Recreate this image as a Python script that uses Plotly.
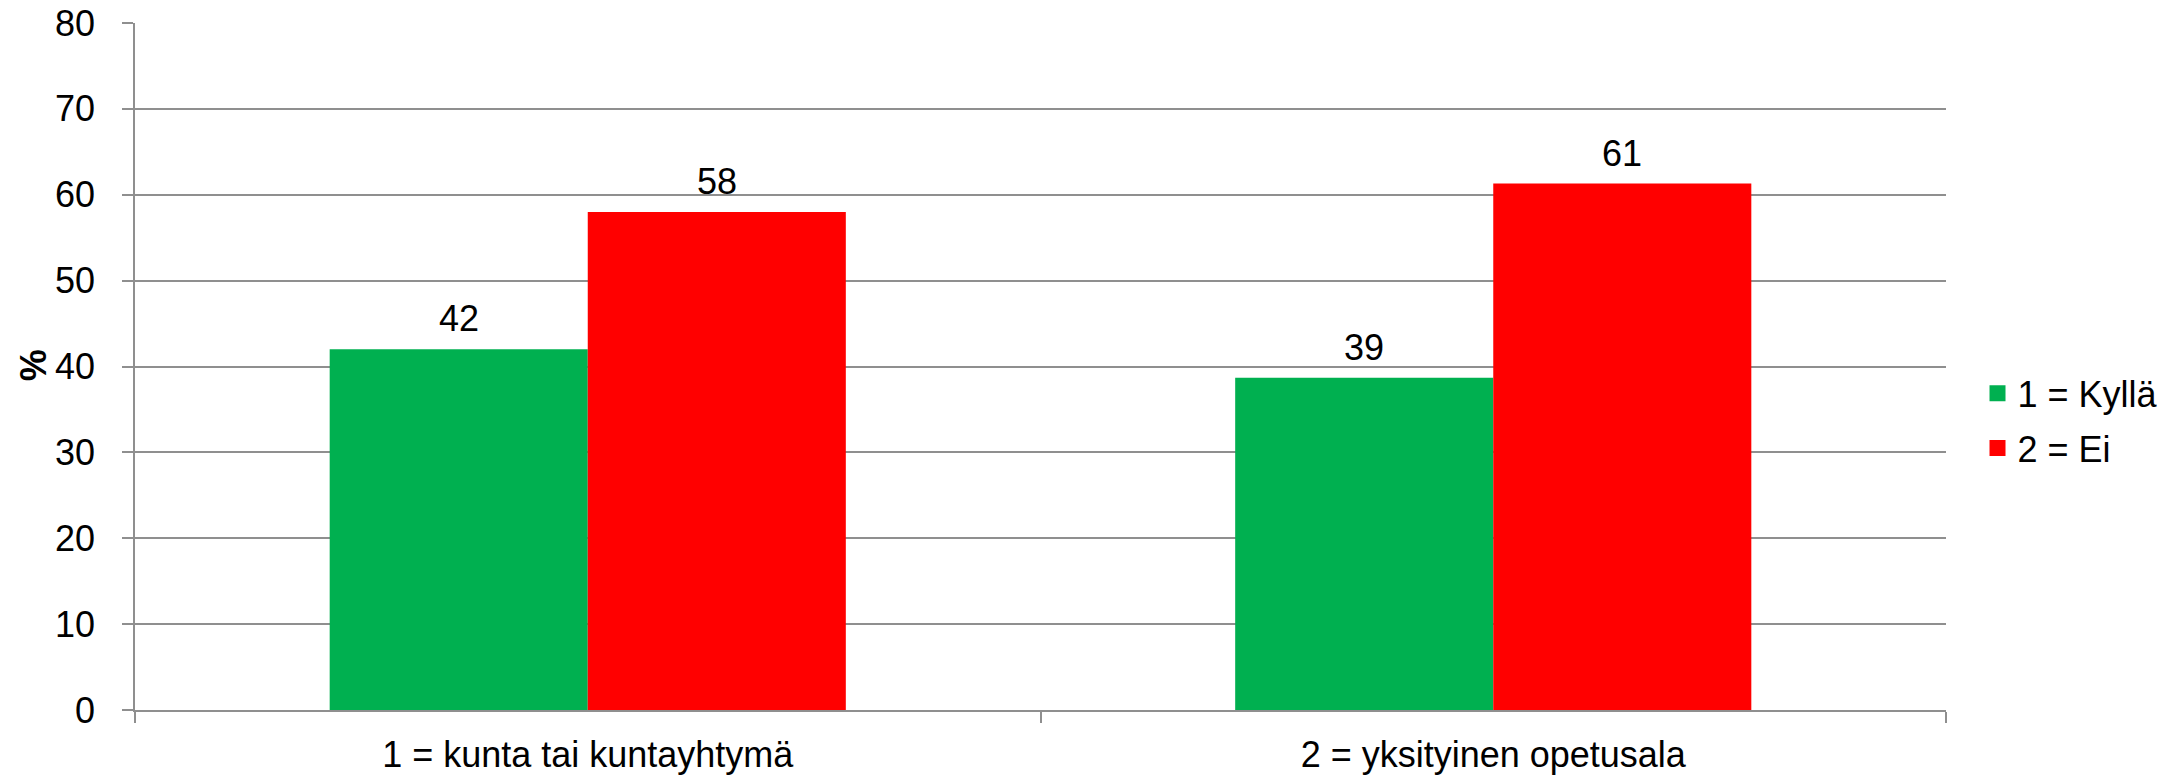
import plotly.graph_objects as go

categories = ["1 = kunta tai kuntayhtymä", "2 = yksityinen opetusala"]
series_names = ["1 = Kyllä", "2 = Ei"]
kylla = [42.0, 38.7]
ei = [58.0, 61.3]
colors = ["#00B050", "#FF0000"]
y_ticks = [0, 10, 20, 30, 40, 50, 60, 70, 80]
y_title = "%"

FONT = "Liberation Sans, Arial, sans-serif"
GRID = "#8f8f8f"
bargap = 0.43

fig = go.Figure()
series = [kylla, ei]
for name, vals, col in zip(series_names, series, colors):
    fig.add_trace(go.Bar(x=categories, y=vals, name=name, marker=dict(color=col, line=dict(width=0)),
                         showlegend=False, hoverinfo="y"))
# legend proxies
for i, (name, col) in enumerate(zip(series_names, colors)):
    fig.add_trace(go.Scatter(x=[None], y=[None], mode="markers", name=name, legendgroup=f"g{i}",
                             marker=dict(symbol="square", size=16, color=col, line=dict(width=0))))

# data labels
nser = len(series)
bw = (1 - bargap) / nser
for si, vals in enumerate(series):
    for ci, v in enumerate(vals):
        xpos = ci - (1 - bargap) / 2 + bw * (si + 0.5)
        fig.add_annotation(x=xpos, y=v, xref="x", yref="y", text=f"{v:.0f}", showarrow=False,
                           yanchor="bottom", yshift=8, font=dict(size=36, color="black", family=FONT))

# y-axis title
fig.add_annotation(x=-0.0563, y=0.502, xref="paper", yref="paper", text=f"<b>{y_title}</b>",
                   textangle=-90, showarrow=False, xanchor="center", yanchor="middle",
                   font=dict(size=36, color="black", family=FONT))

fig.update_layout(
    width=2183, height=775,
    margin=dict(l=135, r=237, t=23, b=65, autoexpand=False),
    paper_bgcolor="white", plot_bgcolor="white",
    barmode="group", bargap=bargap, bargroupgap=0,
    font=dict(family=FONT, size=36, color="black"),
    legend=dict(x=1.0174, y=0.421, xanchor="left", yanchor="middle", font=dict(size=36),
                tracegroupgap=5, itemsizing="trace", bgcolor="rgba(0,0,0,0)"),
    showlegend=True,
)
fig.update_xaxes(type="category", tickson="boundaries", ticks="outside", ticklen=11, tickcolor=GRID,
                 tickwidth=1.5, showline=True, linecolor=GRID, linewidth=1.5, showgrid=False,
                 ticklabelstandoff=12, tickfont=dict(size=36), range=[-0.5, 1.5], automargin=False)
fig.update_yaxes(range=[0, 80], tickvals=y_ticks, ticks="outside", ticklen=11, tickcolor=GRID, tickwidth=1.5,
                 showline=True, linecolor=GRID, linewidth=1.5, showgrid=True, gridcolor=GRID, gridwidth=1.5,
                 zeroline=False, ticklabelstandoff=20, tickfont=dict(size=36), automargin=False)

fig.write_html("out.html", config={"displayModeBar": False},
               post_script="document.body.style.margin='0px';document.body.style.padding='0px';")
